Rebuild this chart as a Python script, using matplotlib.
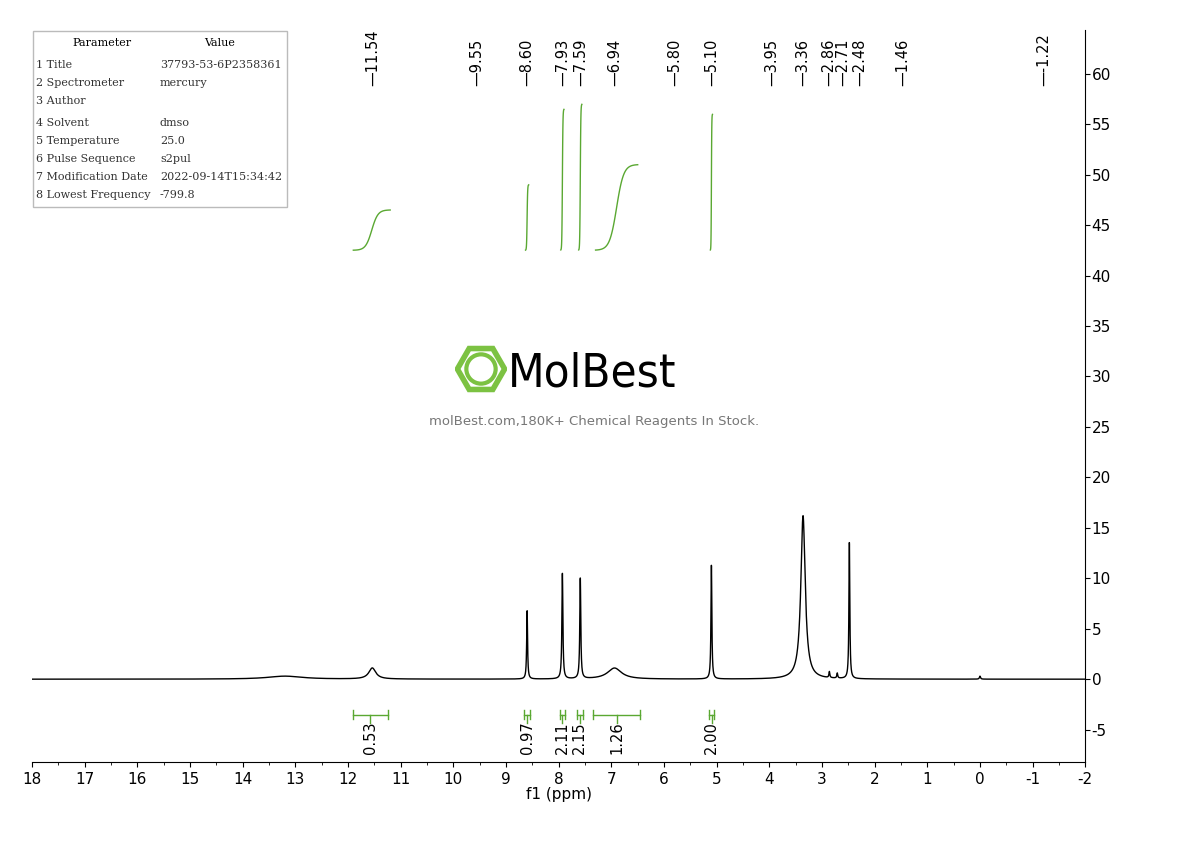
import numpy as np
import matplotlib
matplotlib.use("Agg")
import matplotlib.pyplot as plt
from matplotlib.patches import RegularPolygon, Rectangle, Circle

# spectrum peaks: centre (ppm), height, half-width (ppm)
peak_ppm = [13.2, 11.54, 8.60, 7.93, 7.59, 6.94, 5.10, 3.36, 2.86, 2.71, 2.48, 0.0]
peak_height = [0.3, 1.1, 6.8, 10.5, 10.0, 1.1, 11.3, 16.2, 0.6, 0.5, 13.5, 0.3]
peak_width = [0.4, 0.08, 0.010, 0.011, 0.011, 0.16, 0.010, 0.05, 0.010, 0.010, 0.010, 0.012]

# peak labels on top: value, label position (ppm)
label_vals = ["11.54", "9.55", "8.60", "7.93", "7.59", "6.94", "5.80", "5.10",
              "3.95", "3.36", "2.86", "2.71", "2.48", "1.46", "-1.22"]
label_pos = [11.54, 9.55, 8.60, 7.93, 7.59, 6.94, 5.80, 5.10,
             3.95, 3.36, 2.88, 2.60, 2.29, 1.46, -1.22]

# integrals: start ppm, end ppm, curve y start, curve y end, value
int_start = [11.9, 8.63, 7.96, 7.62, 7.30, 5.12]
int_end = [11.2, 8.57, 7.90, 7.56, 6.50, 5.08]
int_y0 = [42.5, 42.5, 42.5, 42.5, 42.5, 42.5]
int_y1 = [46.5, 49.0, 56.5, 57.0, 51.0, 56.0]
int_vals = ["0.53", "0.97", "2.11", "2.15", "1.26", "2.00"]
brk_start = [11.9, 8.65, 7.98, 7.66, 7.35, 5.14]
brk_end = [11.25, 8.55, 7.88, 7.54, 6.45, 5.05]

params = [("1 Title", "37793-53-6P2358361"), ("2 Spectrometer", "mercury"),
          ("3 Author", ""), ("4 Solvent", "dmso"), ("5 Temperature", "25.0"),
          ("6 Pulse Sequence", "s2pul"), ("7 Modification Date", "2022-09-14T15:34:42"),
          ("8 Lowest Frequency", "-799.8")]

green = "#5aa832"
fig = plt.figure(figsize=(11.9, 8.41), dpi=100)
ax = fig.add_axes([0.027, 0.094, 0.885, 0.870])

x = np.linspace(18, -2, 12000)
y = np.zeros_like(x)
for c, h, w in zip(peak_ppm, peak_height, peak_width):
    y += h * w**2 / ((x - c)**2 + w**2)
ax.plot(x, y, color="black", lw=1.0)

for s, e, y0, y1 in zip(int_start, int_end, int_y0, int_y1):
    xs = np.linspace(s, e, 100)
    t = (xs - s) / (e - s)
    ax.plot(xs, y0 + (y1 - y0) * (0.5 + 0.5 * np.tanh(6 * (t - 0.5))), color=green, lw=1)

for s, e, v in zip(brk_start, brk_end, int_vals):
    ax.plot([s, e], [-3.5, -3.5], color=green, lw=1)
    ax.plot([s, s], [-3.1, -3.9], color=green, lw=1)
    ax.plot([e, e], [-3.1, -3.9], color=green, lw=1)
    m = (s + e) / 2
    ax.plot([m, m], [-3.5, -4.3], color=green, lw=1)
    ax.text(m, -4.2, v, rotation=90, ha="center", va="top", fontsize=10.5)

for v, p in zip(label_vals, label_pos):
    ax.text(p, 58.8, "\u2014" + v, rotation=90, ha="center", va="bottom", fontsize=10.5)

ax.set_xlim(18, -2)
ax.set_ylim(-8.2, 64.3)
ax.set_xticks(range(18, -3, -1))
ax.set_xticklabels([str(i) for i in range(18, -3, -1)], fontsize=11)
ax.set_xticks(np.arange(17.5, -2, -1), minor=True)
ax.set_xlabel("f1 (ppm)", fontsize=11, labelpad=0)
ax.yaxis.tick_right()
ax.set_yticks(range(-5, 61, 5))
ax.set_yticklabels([str(i) for i in range(-5, 61, 5)], fontsize=11)
ax.tick_params(axis="y", pad=1)
ax.spines["left"].set_visible(False)
ax.spines["top"].set_visible(False)

# parameter table
fig.patches.append(Rectangle((33 / 1190, 1 - 207 / 841), 254 / 1190, 176 / 841,
                             transform=fig.transFigure, fill=False, ec="#bbbbbb", lw=1))
fig.text(102 / 1190, 1 - 43 / 841, "Parameter", fontsize=8, family="DejaVu Serif", ha="center", va="center")
fig.text(220 / 1190, 1 - 43 / 841, "Value", fontsize=8, family="DejaVu Serif", ha="center", va="center")
rows_y = [65, 83, 101, 123, 141, 159, 177, 195]
for (k, v), ry in zip(params, rows_y):
    fig.text(36 / 1190, 1 - ry / 841, k, fontsize=8, family="DejaVu Serif", va="center", color="#333333")
    fig.text(160 / 1190, 1 - ry / 841, v, fontsize=8, family="DejaVu Serif", va="center", color="#333333")

# watermark logo
lax = fig.add_axes([455 / 1190, 1 - 395 / 841, 52 / 1190, 52 / 841])
lax.set_xlim(-1.1, 1.1)
lax.set_ylim(-1.1, 1.1)
lax.set_aspect("equal")
lax.axis("off")
lax.add_patch(RegularPolygon((0, 0), 6, radius=1.0, orientation=np.pi / 6, fill=False, ec="#7cc242", lw=4))
lax.add_patch(Circle((0, 0), 0.62, fill=False, ec="#7cc242", lw=3))
fig.text(508 / 1190, 1 - 374 / 841, "MolBest", fontsize=34, ha="left", va="center",
         family="DejaVu Sans", fontstretch="condensed")
fig.text(594 / 1190, 1 - 421 / 841, "molBest.com,180K+ Chemical Reagents In Stock.", fontsize=9.5,
         color="#777777", ha="center", va="center")

fig.savefig("out.png", dpi=100)
